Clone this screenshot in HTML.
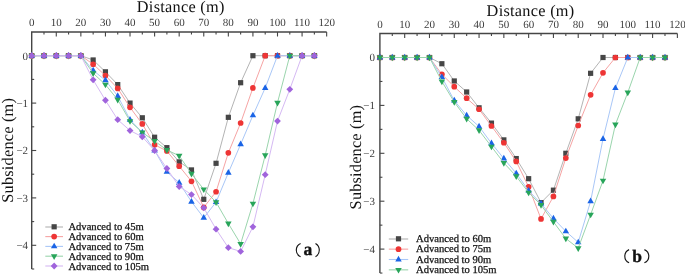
<!DOCTYPE html>
<html><head><meta charset="utf-8"><style>
html,body{margin:0;padding:0;background:#fff;}
body{width:685px;height:275px;overflow:hidden;}
svg{display:block;will-change:transform;}
text{font-family:"Liberation Serif",serif;text-rendering:geometricPrecision;}
.tl{font-size:11px;fill:#3c3c3c;}
.lg{fill:#111;stroke:#111;stroke-width:0.25px;}
.ttl{font-size:17.1px;fill:#111;}
.yl{font-size:17.2px;}
.pl{font-size:17.5px;font-weight:bold;fill:#111;stroke:#111;stroke-width:0.35px;}
</style></head><body>
<svg width="685" height="275" viewBox="0 0 685 275">
<rect width="685" height="275" fill="#fff"/>
<path d="M326.66 32.00H31.70V269.00" fill="none" stroke="#454545" stroke-width="1.4"/>
<line x1="43.99" y1="32.00" x2="43.99" y2="34.50" stroke="#454545" stroke-width="1.1"/>
<line x1="56.28" y1="32.00" x2="56.28" y2="36.50" stroke="#454545" stroke-width="1.1"/>
<line x1="68.57" y1="32.00" x2="68.57" y2="34.50" stroke="#454545" stroke-width="1.1"/>
<line x1="80.86" y1="32.00" x2="80.86" y2="36.50" stroke="#454545" stroke-width="1.1"/>
<line x1="93.15" y1="32.00" x2="93.15" y2="34.50" stroke="#454545" stroke-width="1.1"/>
<line x1="105.44" y1="32.00" x2="105.44" y2="36.50" stroke="#454545" stroke-width="1.1"/>
<line x1="117.73" y1="32.00" x2="117.73" y2="34.50" stroke="#454545" stroke-width="1.1"/>
<line x1="130.02" y1="32.00" x2="130.02" y2="36.50" stroke="#454545" stroke-width="1.1"/>
<line x1="142.31" y1="32.00" x2="142.31" y2="34.50" stroke="#454545" stroke-width="1.1"/>
<line x1="154.60" y1="32.00" x2="154.60" y2="36.50" stroke="#454545" stroke-width="1.1"/>
<line x1="166.89" y1="32.00" x2="166.89" y2="34.50" stroke="#454545" stroke-width="1.1"/>
<line x1="179.18" y1="32.00" x2="179.18" y2="36.50" stroke="#454545" stroke-width="1.1"/>
<line x1="191.47" y1="32.00" x2="191.47" y2="34.50" stroke="#454545" stroke-width="1.1"/>
<line x1="203.76" y1="32.00" x2="203.76" y2="36.50" stroke="#454545" stroke-width="1.1"/>
<line x1="216.05" y1="32.00" x2="216.05" y2="34.50" stroke="#454545" stroke-width="1.1"/>
<line x1="228.34" y1="32.00" x2="228.34" y2="36.50" stroke="#454545" stroke-width="1.1"/>
<line x1="240.63" y1="32.00" x2="240.63" y2="34.50" stroke="#454545" stroke-width="1.1"/>
<line x1="252.92" y1="32.00" x2="252.92" y2="36.50" stroke="#454545" stroke-width="1.1"/>
<line x1="265.21" y1="32.00" x2="265.21" y2="34.50" stroke="#454545" stroke-width="1.1"/>
<line x1="277.50" y1="32.00" x2="277.50" y2="36.50" stroke="#454545" stroke-width="1.1"/>
<line x1="289.79" y1="32.00" x2="289.79" y2="34.50" stroke="#454545" stroke-width="1.1"/>
<line x1="302.08" y1="32.00" x2="302.08" y2="36.50" stroke="#454545" stroke-width="1.1"/>
<line x1="314.37" y1="32.00" x2="314.37" y2="34.50" stroke="#454545" stroke-width="1.1"/>
<line x1="326.66" y1="32.00" x2="326.66" y2="36.50" stroke="#454545" stroke-width="1.1"/>
<text x="31.70" y="25.60" class="tl" text-anchor="middle">0</text>
<text x="56.28" y="25.60" class="tl" text-anchor="middle">10</text>
<text x="80.86" y="25.60" class="tl" text-anchor="middle">20</text>
<text x="105.44" y="25.60" class="tl" text-anchor="middle">30</text>
<text x="130.02" y="25.60" class="tl" text-anchor="middle">40</text>
<text x="154.60" y="25.60" class="tl" text-anchor="middle">50</text>
<text x="179.18" y="25.60" class="tl" text-anchor="middle">60</text>
<text x="203.76" y="25.60" class="tl" text-anchor="middle">70</text>
<text x="228.34" y="25.60" class="tl" text-anchor="middle">80</text>
<text x="252.92" y="25.60" class="tl" text-anchor="middle">90</text>
<text x="277.50" y="25.60" class="tl" text-anchor="middle">100</text>
<text x="302.08" y="25.60" class="tl" text-anchor="middle">110</text>
<text x="326.66" y="25.60" class="tl" text-anchor="middle">120</text>
<line x1="31.70" y1="55.70" x2="36.20" y2="55.70" stroke="#454545" stroke-width="1.1"/>
<line x1="31.70" y1="79.40" x2="34.20" y2="79.40" stroke="#454545" stroke-width="1.1"/>
<line x1="31.70" y1="103.10" x2="36.20" y2="103.10" stroke="#454545" stroke-width="1.1"/>
<line x1="31.70" y1="126.80" x2="34.20" y2="126.80" stroke="#454545" stroke-width="1.1"/>
<line x1="31.70" y1="150.50" x2="36.20" y2="150.50" stroke="#454545" stroke-width="1.1"/>
<line x1="31.70" y1="174.20" x2="34.20" y2="174.20" stroke="#454545" stroke-width="1.1"/>
<line x1="31.70" y1="197.90" x2="36.20" y2="197.90" stroke="#454545" stroke-width="1.1"/>
<line x1="31.70" y1="221.60" x2="34.20" y2="221.60" stroke="#454545" stroke-width="1.1"/>
<line x1="31.70" y1="245.30" x2="36.20" y2="245.30" stroke="#454545" stroke-width="1.1"/>
<line x1="31.70" y1="269.00" x2="34.20" y2="269.00" stroke="#454545" stroke-width="1.1"/>
<text x="28.10" y="59.55" class="tl" text-anchor="end">0</text>
<text x="28.10" y="106.95" class="tl" text-anchor="end">−1</text>
<text x="28.10" y="154.35" class="tl" text-anchor="end">−2</text>
<text x="28.10" y="201.75" class="tl" text-anchor="end">−3</text>
<text x="28.10" y="249.15" class="tl" text-anchor="end">−4</text>
<path d="M677.38 33.55H379.90V273.05" fill="none" stroke="#454545" stroke-width="1.4"/>
<line x1="392.29" y1="33.55" x2="392.29" y2="36.05" stroke="#454545" stroke-width="1.1"/>
<line x1="404.69" y1="33.55" x2="404.69" y2="38.05" stroke="#454545" stroke-width="1.1"/>
<line x1="417.08" y1="33.55" x2="417.08" y2="36.05" stroke="#454545" stroke-width="1.1"/>
<line x1="429.48" y1="33.55" x2="429.48" y2="38.05" stroke="#454545" stroke-width="1.1"/>
<line x1="441.88" y1="33.55" x2="441.88" y2="36.05" stroke="#454545" stroke-width="1.1"/>
<line x1="454.27" y1="33.55" x2="454.27" y2="38.05" stroke="#454545" stroke-width="1.1"/>
<line x1="466.66" y1="33.55" x2="466.66" y2="36.05" stroke="#454545" stroke-width="1.1"/>
<line x1="479.06" y1="33.55" x2="479.06" y2="38.05" stroke="#454545" stroke-width="1.1"/>
<line x1="491.45" y1="33.55" x2="491.45" y2="36.05" stroke="#454545" stroke-width="1.1"/>
<line x1="503.85" y1="33.55" x2="503.85" y2="38.05" stroke="#454545" stroke-width="1.1"/>
<line x1="516.25" y1="33.55" x2="516.25" y2="36.05" stroke="#454545" stroke-width="1.1"/>
<line x1="528.64" y1="33.55" x2="528.64" y2="38.05" stroke="#454545" stroke-width="1.1"/>
<line x1="541.03" y1="33.55" x2="541.03" y2="36.05" stroke="#454545" stroke-width="1.1"/>
<line x1="553.43" y1="33.55" x2="553.43" y2="38.05" stroke="#454545" stroke-width="1.1"/>
<line x1="565.83" y1="33.55" x2="565.83" y2="36.05" stroke="#454545" stroke-width="1.1"/>
<line x1="578.22" y1="33.55" x2="578.22" y2="38.05" stroke="#454545" stroke-width="1.1"/>
<line x1="590.62" y1="33.55" x2="590.62" y2="36.05" stroke="#454545" stroke-width="1.1"/>
<line x1="603.01" y1="33.55" x2="603.01" y2="38.05" stroke="#454545" stroke-width="1.1"/>
<line x1="615.40" y1="33.55" x2="615.40" y2="36.05" stroke="#454545" stroke-width="1.1"/>
<line x1="627.80" y1="33.55" x2="627.80" y2="38.05" stroke="#454545" stroke-width="1.1"/>
<line x1="640.19" y1="33.55" x2="640.19" y2="36.05" stroke="#454545" stroke-width="1.1"/>
<line x1="652.59" y1="33.55" x2="652.59" y2="38.05" stroke="#454545" stroke-width="1.1"/>
<line x1="664.99" y1="33.55" x2="664.99" y2="36.05" stroke="#454545" stroke-width="1.1"/>
<line x1="677.38" y1="33.55" x2="677.38" y2="38.05" stroke="#454545" stroke-width="1.1"/>
<text x="379.90" y="27.80" class="tl" text-anchor="middle">0</text>
<text x="404.69" y="27.80" class="tl" text-anchor="middle">10</text>
<text x="429.48" y="27.80" class="tl" text-anchor="middle">20</text>
<text x="454.27" y="27.80" class="tl" text-anchor="middle">30</text>
<text x="479.06" y="27.80" class="tl" text-anchor="middle">40</text>
<text x="503.85" y="27.80" class="tl" text-anchor="middle">50</text>
<text x="528.64" y="27.80" class="tl" text-anchor="middle">60</text>
<text x="553.43" y="27.80" class="tl" text-anchor="middle">70</text>
<text x="578.22" y="27.80" class="tl" text-anchor="middle">80</text>
<text x="603.01" y="27.80" class="tl" text-anchor="middle">90</text>
<text x="627.80" y="27.80" class="tl" text-anchor="middle">100</text>
<text x="652.59" y="27.80" class="tl" text-anchor="middle">110</text>
<text x="677.38" y="27.80" class="tl" text-anchor="middle">120</text>
<line x1="379.90" y1="57.50" x2="384.40" y2="57.50" stroke="#454545" stroke-width="1.1"/>
<line x1="379.90" y1="81.45" x2="382.40" y2="81.45" stroke="#454545" stroke-width="1.1"/>
<line x1="379.90" y1="105.40" x2="384.40" y2="105.40" stroke="#454545" stroke-width="1.1"/>
<line x1="379.90" y1="129.35" x2="382.40" y2="129.35" stroke="#454545" stroke-width="1.1"/>
<line x1="379.90" y1="153.30" x2="384.40" y2="153.30" stroke="#454545" stroke-width="1.1"/>
<line x1="379.90" y1="177.25" x2="382.40" y2="177.25" stroke="#454545" stroke-width="1.1"/>
<line x1="379.90" y1="201.20" x2="384.40" y2="201.20" stroke="#454545" stroke-width="1.1"/>
<line x1="379.90" y1="225.15" x2="382.40" y2="225.15" stroke="#454545" stroke-width="1.1"/>
<line x1="379.90" y1="249.10" x2="384.40" y2="249.10" stroke="#454545" stroke-width="1.1"/>
<line x1="379.90" y1="273.05" x2="382.40" y2="273.05" stroke="#454545" stroke-width="1.1"/>
<text x="375.00" y="61.35" class="tl" text-anchor="end">0</text>
<text x="375.00" y="109.25" class="tl" text-anchor="end">−1</text>
<text x="375.00" y="157.15" class="tl" text-anchor="end">−2</text>
<text x="375.00" y="205.05" class="tl" text-anchor="end">−3</text>
<text x="375.00" y="252.95" class="tl" text-anchor="end">−4</text>
<path d="M31.70 55.70 L43.99 55.70 L56.28 55.70 L68.57 55.70 L80.86 55.70 L93.15 59.97 L105.44 71.82 L117.73 84.61 L130.02 103.10 L142.31 117.79 L154.60 137.23 L166.89 147.66 L179.18 161.88 L191.47 169.93 L203.76 199.32 L216.05 163.30 L228.34 117.32 L240.63 82.72 L252.92 55.70 L265.21 55.70 L277.50 55.70 L289.79 55.70 L302.08 55.70 L314.37 55.70" fill="none" stroke="#b4b4b4" stroke-width="1"/>
<rect x="29.10" y="53.10" width="5.20" height="5.20" fill="#464646"/>
<rect x="41.39" y="53.10" width="5.20" height="5.20" fill="#464646"/>
<rect x="53.68" y="53.10" width="5.20" height="5.20" fill="#464646"/>
<rect x="65.97" y="53.10" width="5.20" height="5.20" fill="#464646"/>
<rect x="78.26" y="53.10" width="5.20" height="5.20" fill="#464646"/>
<rect x="90.55" y="57.37" width="5.20" height="5.20" fill="#464646"/>
<rect x="102.84" y="69.22" width="5.20" height="5.20" fill="#464646"/>
<rect x="115.13" y="82.01" width="5.20" height="5.20" fill="#464646"/>
<rect x="127.42" y="100.50" width="5.20" height="5.20" fill="#464646"/>
<rect x="139.71" y="115.19" width="5.20" height="5.20" fill="#464646"/>
<rect x="152.00" y="134.63" width="5.20" height="5.20" fill="#464646"/>
<rect x="164.29" y="145.06" width="5.20" height="5.20" fill="#464646"/>
<rect x="176.58" y="159.28" width="5.20" height="5.20" fill="#464646"/>
<rect x="188.87" y="167.33" width="5.20" height="5.20" fill="#464646"/>
<rect x="201.16" y="196.72" width="5.20" height="5.20" fill="#464646"/>
<rect x="213.45" y="160.70" width="5.20" height="5.20" fill="#464646"/>
<rect x="225.74" y="114.72" width="5.20" height="5.20" fill="#464646"/>
<rect x="238.03" y="80.12" width="5.20" height="5.20" fill="#464646"/>
<rect x="250.32" y="53.10" width="5.20" height="5.20" fill="#464646"/>
<rect x="262.61" y="53.10" width="5.20" height="5.20" fill="#464646"/>
<rect x="274.90" y="53.10" width="5.20" height="5.20" fill="#464646"/>
<rect x="287.19" y="53.10" width="5.20" height="5.20" fill="#464646"/>
<rect x="299.48" y="53.10" width="5.20" height="5.20" fill="#464646"/>
<rect x="311.77" y="53.10" width="5.20" height="5.20" fill="#464646"/>
<path d="M31.70 55.70 L43.99 55.70 L56.28 55.70 L68.57 55.70 L80.86 55.70 L93.15 64.23 L105.44 75.61 L117.73 88.41 L130.02 107.37 L142.31 123.96 L154.60 144.81 L166.89 150.97 L179.18 166.14 L191.47 181.31 L203.76 207.38 L216.05 191.74 L228.34 152.87 L240.63 123.01 L252.92 87.93 L265.21 55.70 L277.50 55.70 L289.79 55.70 L302.08 55.70 L314.37 55.70" fill="none" stroke="#f6a4a4" stroke-width="1"/>
<circle cx="31.70" cy="55.70" r="2.85" fill="#ee3535"/>
<circle cx="43.99" cy="55.70" r="2.85" fill="#ee3535"/>
<circle cx="56.28" cy="55.70" r="2.85" fill="#ee3535"/>
<circle cx="68.57" cy="55.70" r="2.85" fill="#ee3535"/>
<circle cx="80.86" cy="55.70" r="2.85" fill="#ee3535"/>
<circle cx="93.15" cy="64.23" r="2.85" fill="#ee3535"/>
<circle cx="105.44" cy="75.61" r="2.85" fill="#ee3535"/>
<circle cx="117.73" cy="88.41" r="2.85" fill="#ee3535"/>
<circle cx="130.02" cy="107.37" r="2.85" fill="#ee3535"/>
<circle cx="142.31" cy="123.96" r="2.85" fill="#ee3535"/>
<circle cx="154.60" cy="144.81" r="2.85" fill="#ee3535"/>
<circle cx="166.89" cy="150.97" r="2.85" fill="#ee3535"/>
<circle cx="179.18" cy="166.14" r="2.85" fill="#ee3535"/>
<circle cx="191.47" cy="181.31" r="2.85" fill="#ee3535"/>
<circle cx="203.76" cy="207.38" r="2.85" fill="#ee3535"/>
<circle cx="216.05" cy="191.74" r="2.85" fill="#ee3535"/>
<circle cx="228.34" cy="152.87" r="2.85" fill="#ee3535"/>
<circle cx="240.63" cy="123.01" r="2.85" fill="#ee3535"/>
<circle cx="252.92" cy="87.93" r="2.85" fill="#ee3535"/>
<circle cx="265.21" cy="55.70" r="2.85" fill="#ee3535"/>
<circle cx="277.50" cy="55.70" r="2.85" fill="#ee3535"/>
<circle cx="289.79" cy="55.70" r="2.85" fill="#ee3535"/>
<circle cx="302.08" cy="55.70" r="2.85" fill="#ee3535"/>
<circle cx="314.37" cy="55.70" r="2.85" fill="#ee3535"/>
<path d="M31.70 55.70 L43.99 55.70 L56.28 55.70 L68.57 55.70 L80.86 55.70 L93.15 70.39 L105.44 80.35 L117.73 95.99 L130.02 119.69 L142.31 132.49 L154.60 150.50 L166.89 171.83 L179.18 182.73 L191.47 201.69 L203.76 217.81 L216.05 202.17 L228.34 172.78 L240.63 144.34 L252.92 115.42 L265.21 87.93 L277.50 55.70 L289.79 55.70 L302.08 55.70 L314.37 55.70" fill="none" stroke="#a9c7f7" stroke-width="1"/>
<path d="M31.70 51.95L34.95 57.65L28.45 57.65Z" fill="#1a64e6"/>
<path d="M43.99 51.95L47.24 57.65L40.74 57.65Z" fill="#1a64e6"/>
<path d="M56.28 51.95L59.53 57.65L53.03 57.65Z" fill="#1a64e6"/>
<path d="M68.57 51.95L71.82 57.65L65.32 57.65Z" fill="#1a64e6"/>
<path d="M80.86 51.95L84.11 57.65L77.61 57.65Z" fill="#1a64e6"/>
<path d="M93.15 66.64L96.40 72.34L89.90 72.34Z" fill="#1a64e6"/>
<path d="M105.44 76.60L108.69 82.30L102.19 82.30Z" fill="#1a64e6"/>
<path d="M117.73 92.24L120.98 97.94L114.48 97.94Z" fill="#1a64e6"/>
<path d="M130.02 115.94L133.27 121.64L126.77 121.64Z" fill="#1a64e6"/>
<path d="M142.31 128.74L145.56 134.44L139.06 134.44Z" fill="#1a64e6"/>
<path d="M154.60 146.75L157.85 152.45L151.35 152.45Z" fill="#1a64e6"/>
<path d="M166.89 168.08L170.14 173.78L163.64 173.78Z" fill="#1a64e6"/>
<path d="M179.18 178.98L182.43 184.68L175.93 184.68Z" fill="#1a64e6"/>
<path d="M191.47 197.94L194.72 203.64L188.22 203.64Z" fill="#1a64e6"/>
<path d="M203.76 214.06L207.01 219.76L200.51 219.76Z" fill="#1a64e6"/>
<path d="M216.05 198.42L219.30 204.12L212.80 204.12Z" fill="#1a64e6"/>
<path d="M228.34 169.03L231.59 174.73L225.09 174.73Z" fill="#1a64e6"/>
<path d="M240.63 140.59L243.88 146.29L237.38 146.29Z" fill="#1a64e6"/>
<path d="M252.92 111.67L256.17 117.37L249.67 117.37Z" fill="#1a64e6"/>
<path d="M265.21 84.18L268.46 89.88L261.96 89.88Z" fill="#1a64e6"/>
<path d="M277.50 51.95L280.75 57.65L274.25 57.65Z" fill="#1a64e6"/>
<path d="M289.79 51.95L293.04 57.65L286.54 57.65Z" fill="#1a64e6"/>
<path d="M302.08 51.95L305.33 57.65L298.83 57.65Z" fill="#1a64e6"/>
<path d="M314.37 51.95L317.62 57.65L311.12 57.65Z" fill="#1a64e6"/>
<path d="M31.70 55.70 L43.99 55.70 L56.28 55.70 L68.57 55.70 L80.86 55.70 L93.15 73.24 L105.44 84.61 L117.73 99.78 L130.02 121.11 L142.31 132.49 L154.60 141.02 L166.89 150.03 L179.18 155.71 L191.47 173.73 L203.76 189.37 L216.05 202.17 L228.34 223.50 L240.63 243.88 L252.92 203.59 L265.21 155.24 L277.50 102.63 L289.79 55.70 L302.08 55.70 L314.37 55.70" fill="none" stroke="#9ad5ad" stroke-width="1"/>
<path d="M31.70 59.45L34.95 53.75L28.45 53.75Z" fill="#28a55a"/>
<path d="M43.99 59.45L47.24 53.75L40.74 53.75Z" fill="#28a55a"/>
<path d="M56.28 59.45L59.53 53.75L53.03 53.75Z" fill="#28a55a"/>
<path d="M68.57 59.45L71.82 53.75L65.32 53.75Z" fill="#28a55a"/>
<path d="M80.86 59.45L84.11 53.75L77.61 53.75Z" fill="#28a55a"/>
<path d="M93.15 76.99L96.40 71.29L89.90 71.29Z" fill="#28a55a"/>
<path d="M105.44 88.36L108.69 82.66L102.19 82.66Z" fill="#28a55a"/>
<path d="M117.73 103.53L120.98 97.83L114.48 97.83Z" fill="#28a55a"/>
<path d="M130.02 124.86L133.27 119.16L126.77 119.16Z" fill="#28a55a"/>
<path d="M142.31 136.24L145.56 130.54L139.06 130.54Z" fill="#28a55a"/>
<path d="M154.60 144.77L157.85 139.07L151.35 139.07Z" fill="#28a55a"/>
<path d="M166.89 153.78L170.14 148.08L163.64 148.08Z" fill="#28a55a"/>
<path d="M179.18 159.46L182.43 153.76L175.93 153.76Z" fill="#28a55a"/>
<path d="M191.47 177.48L194.72 171.78L188.22 171.78Z" fill="#28a55a"/>
<path d="M203.76 193.12L207.01 187.42L200.51 187.42Z" fill="#28a55a"/>
<path d="M216.05 205.92L219.30 200.22L212.80 200.22Z" fill="#28a55a"/>
<path d="M228.34 227.25L231.59 221.55L225.09 221.55Z" fill="#28a55a"/>
<path d="M240.63 247.63L243.88 241.93L237.38 241.93Z" fill="#28a55a"/>
<path d="M252.92 207.34L256.17 201.64L249.67 201.64Z" fill="#28a55a"/>
<path d="M265.21 158.99L268.46 153.29L261.96 153.29Z" fill="#28a55a"/>
<path d="M277.50 106.38L280.75 100.68L274.25 100.68Z" fill="#28a55a"/>
<path d="M289.79 59.45L293.04 53.75L286.54 53.75Z" fill="#28a55a"/>
<path d="M302.08 59.45L305.33 53.75L298.83 53.75Z" fill="#28a55a"/>
<path d="M314.37 59.45L317.62 53.75L311.12 53.75Z" fill="#28a55a"/>
<path d="M31.70 55.70 L43.99 55.70 L56.28 55.70 L68.57 55.70 L80.86 55.70 L93.15 79.87 L105.44 100.26 L117.73 119.69 L130.02 130.59 L142.31 136.75 L154.60 150.50 L166.89 168.51 L179.18 186.52 L191.47 194.58 L203.76 207.85 L216.05 229.18 L228.34 247.67 L240.63 251.46 L252.92 226.81 L265.21 174.67 L277.50 121.11 L289.79 89.35 L302.08 55.70 L314.37 55.70" fill="none" stroke="#d5b9f3" stroke-width="1"/>
<path d="M31.70 52.30L35.10 55.70L31.70 59.10L28.30 55.70Z" fill="#a064dc"/>
<path d="M43.99 52.30L47.39 55.70L43.99 59.10L40.59 55.70Z" fill="#a064dc"/>
<path d="M56.28 52.30L59.68 55.70L56.28 59.10L52.88 55.70Z" fill="#a064dc"/>
<path d="M68.57 52.30L71.97 55.70L68.57 59.10L65.17 55.70Z" fill="#a064dc"/>
<path d="M80.86 52.30L84.26 55.70L80.86 59.10L77.46 55.70Z" fill="#a064dc"/>
<path d="M93.15 76.47L96.55 79.87L93.15 83.27L89.75 79.87Z" fill="#a064dc"/>
<path d="M105.44 96.86L108.84 100.26L105.44 103.66L102.04 100.26Z" fill="#a064dc"/>
<path d="M117.73 116.29L121.13 119.69L117.73 123.09L114.33 119.69Z" fill="#a064dc"/>
<path d="M130.02 127.19L133.42 130.59L130.02 133.99L126.62 130.59Z" fill="#a064dc"/>
<path d="M142.31 133.35L145.71 136.75L142.31 140.15L138.91 136.75Z" fill="#a064dc"/>
<path d="M154.60 147.10L158.00 150.50L154.60 153.90L151.20 150.50Z" fill="#a064dc"/>
<path d="M166.89 165.11L170.29 168.51L166.89 171.91L163.49 168.51Z" fill="#a064dc"/>
<path d="M179.18 183.12L182.58 186.52L179.18 189.92L175.78 186.52Z" fill="#a064dc"/>
<path d="M191.47 191.18L194.87 194.58L191.47 197.98L188.07 194.58Z" fill="#a064dc"/>
<path d="M203.76 204.45L207.16 207.85L203.76 211.25L200.36 207.85Z" fill="#a064dc"/>
<path d="M216.05 225.78L219.45 229.18L216.05 232.58L212.65 229.18Z" fill="#a064dc"/>
<path d="M228.34 244.27L231.74 247.67L228.34 251.07L224.94 247.67Z" fill="#a064dc"/>
<path d="M240.63 248.06L244.03 251.46L240.63 254.86L237.23 251.46Z" fill="#a064dc"/>
<path d="M252.92 223.41L256.32 226.81L252.92 230.21L249.52 226.81Z" fill="#a064dc"/>
<path d="M265.21 171.27L268.61 174.67L265.21 178.07L261.81 174.67Z" fill="#a064dc"/>
<path d="M277.50 117.71L280.90 121.11L277.50 124.51L274.10 121.11Z" fill="#a064dc"/>
<path d="M289.79 85.95L293.19 89.35L289.79 92.75L286.39 89.35Z" fill="#a064dc"/>
<path d="M302.08 52.30L305.48 55.70L302.08 59.10L298.68 55.70Z" fill="#a064dc"/>
<path d="M314.37 52.30L317.77 55.70L314.37 59.10L310.97 55.70Z" fill="#a064dc"/>
<path d="M379.90 57.50 L392.29 57.50 L404.69 57.50 L417.08 57.50 L429.48 57.50 L441.88 63.73 L454.27 80.97 L466.66 91.99 L479.06 107.80 L491.45 123.12 L503.85 139.89 L516.25 158.57 L528.64 178.69 L541.03 202.64 L553.43 190.18 L565.83 153.30 L578.22 118.81 L590.62 73.31 L603.01 57.50 L615.40 57.50 L627.80 57.50 L640.19 57.50 L652.59 57.50 L664.99 57.50" fill="none" stroke="#b4b4b4" stroke-width="1"/>
<rect x="377.30" y="54.90" width="5.20" height="5.20" fill="#464646"/>
<rect x="389.69" y="54.90" width="5.20" height="5.20" fill="#464646"/>
<rect x="402.09" y="54.90" width="5.20" height="5.20" fill="#464646"/>
<rect x="414.48" y="54.90" width="5.20" height="5.20" fill="#464646"/>
<rect x="426.88" y="54.90" width="5.20" height="5.20" fill="#464646"/>
<rect x="439.27" y="61.13" width="5.20" height="5.20" fill="#464646"/>
<rect x="451.67" y="78.37" width="5.20" height="5.20" fill="#464646"/>
<rect x="464.06" y="89.39" width="5.20" height="5.20" fill="#464646"/>
<rect x="476.46" y="105.20" width="5.20" height="5.20" fill="#464646"/>
<rect x="488.85" y="120.52" width="5.20" height="5.20" fill="#464646"/>
<rect x="501.25" y="137.29" width="5.20" height="5.20" fill="#464646"/>
<rect x="513.64" y="155.97" width="5.20" height="5.20" fill="#464646"/>
<rect x="526.04" y="176.09" width="5.20" height="5.20" fill="#464646"/>
<rect x="538.43" y="200.04" width="5.20" height="5.20" fill="#464646"/>
<rect x="550.83" y="187.58" width="5.20" height="5.20" fill="#464646"/>
<rect x="563.23" y="150.70" width="5.20" height="5.20" fill="#464646"/>
<rect x="575.62" y="116.21" width="5.20" height="5.20" fill="#464646"/>
<rect x="588.01" y="70.71" width="5.20" height="5.20" fill="#464646"/>
<rect x="600.41" y="54.90" width="5.20" height="5.20" fill="#464646"/>
<rect x="612.80" y="54.90" width="5.20" height="5.20" fill="#464646"/>
<rect x="625.20" y="54.90" width="5.20" height="5.20" fill="#464646"/>
<rect x="637.59" y="54.90" width="5.20" height="5.20" fill="#464646"/>
<rect x="649.99" y="54.90" width="5.20" height="5.20" fill="#464646"/>
<rect x="662.38" y="54.90" width="5.20" height="5.20" fill="#464646"/>
<path d="M379.90 57.50 L392.29 57.50 L404.69 57.50 L417.08 57.50 L429.48 57.50 L441.88 74.27 L454.27 86.72 L466.66 98.22 L479.06 109.23 L491.45 126.00 L503.85 142.76 L516.25 161.44 L528.64 186.83 L541.03 218.92 L553.43 196.41 L565.83 158.09 L578.22 125.52 L590.62 94.86 L603.01 72.83 L615.40 57.50 L627.80 57.50 L640.19 57.50 L652.59 57.50 L664.99 57.50" fill="none" stroke="#f6a4a4" stroke-width="1"/>
<circle cx="379.90" cy="57.50" r="2.85" fill="#ee3535"/>
<circle cx="392.29" cy="57.50" r="2.85" fill="#ee3535"/>
<circle cx="404.69" cy="57.50" r="2.85" fill="#ee3535"/>
<circle cx="417.08" cy="57.50" r="2.85" fill="#ee3535"/>
<circle cx="429.48" cy="57.50" r="2.85" fill="#ee3535"/>
<circle cx="441.88" cy="74.27" r="2.85" fill="#ee3535"/>
<circle cx="454.27" cy="86.72" r="2.85" fill="#ee3535"/>
<circle cx="466.66" cy="98.22" r="2.85" fill="#ee3535"/>
<circle cx="479.06" cy="109.23" r="2.85" fill="#ee3535"/>
<circle cx="491.45" cy="126.00" r="2.85" fill="#ee3535"/>
<circle cx="503.85" cy="142.76" r="2.85" fill="#ee3535"/>
<circle cx="516.25" cy="161.44" r="2.85" fill="#ee3535"/>
<circle cx="528.64" cy="186.83" r="2.85" fill="#ee3535"/>
<circle cx="541.03" cy="218.92" r="2.85" fill="#ee3535"/>
<circle cx="553.43" cy="196.41" r="2.85" fill="#ee3535"/>
<circle cx="565.83" cy="158.09" r="2.85" fill="#ee3535"/>
<circle cx="578.22" cy="125.52" r="2.85" fill="#ee3535"/>
<circle cx="590.62" cy="94.86" r="2.85" fill="#ee3535"/>
<circle cx="603.01" cy="72.83" r="2.85" fill="#ee3535"/>
<circle cx="615.40" cy="57.50" r="2.85" fill="#ee3535"/>
<circle cx="627.80" cy="57.50" r="2.85" fill="#ee3535"/>
<circle cx="640.19" cy="57.50" r="2.85" fill="#ee3535"/>
<circle cx="652.59" cy="57.50" r="2.85" fill="#ee3535"/>
<circle cx="664.99" cy="57.50" r="2.85" fill="#ee3535"/>
<path d="M379.90 57.50 L392.29 57.50 L404.69 57.50 L417.08 57.50 L429.48 57.50 L441.88 77.14 L454.27 100.61 L466.66 115.46 L479.06 126.48 L491.45 143.24 L503.85 158.57 L516.25 173.42 L528.64 190.66 L541.03 203.59 L553.43 218.44 L565.83 231.38 L578.22 242.39 L590.62 201.20 L603.01 138.93 L615.40 88.16 L627.80 57.50 L640.19 57.50 L652.59 57.50 L664.99 57.50" fill="none" stroke="#a9c7f7" stroke-width="1"/>
<path d="M379.90 53.75L383.15 59.45L376.65 59.45Z" fill="#1a64e6"/>
<path d="M392.29 53.75L395.54 59.45L389.04 59.45Z" fill="#1a64e6"/>
<path d="M404.69 53.75L407.94 59.45L401.44 59.45Z" fill="#1a64e6"/>
<path d="M417.08 53.75L420.33 59.45L413.83 59.45Z" fill="#1a64e6"/>
<path d="M429.48 53.75L432.73 59.45L426.23 59.45Z" fill="#1a64e6"/>
<path d="M441.88 73.39L445.12 79.09L438.62 79.09Z" fill="#1a64e6"/>
<path d="M454.27 96.86L457.52 102.56L451.02 102.56Z" fill="#1a64e6"/>
<path d="M466.66 111.71L469.91 117.41L463.41 117.41Z" fill="#1a64e6"/>
<path d="M479.06 122.73L482.31 128.43L475.81 128.43Z" fill="#1a64e6"/>
<path d="M491.45 139.49L494.70 145.19L488.20 145.19Z" fill="#1a64e6"/>
<path d="M503.85 154.82L507.10 160.52L500.60 160.52Z" fill="#1a64e6"/>
<path d="M516.25 169.67L519.50 175.37L513.00 175.37Z" fill="#1a64e6"/>
<path d="M528.64 186.91L531.89 192.61L525.39 192.61Z" fill="#1a64e6"/>
<path d="M541.03 199.84L544.28 205.54L537.78 205.54Z" fill="#1a64e6"/>
<path d="M553.43 214.69L556.68 220.39L550.18 220.39Z" fill="#1a64e6"/>
<path d="M565.83 227.63L569.08 233.33L562.58 233.33Z" fill="#1a64e6"/>
<path d="M578.22 238.64L581.47 244.34L574.97 244.34Z" fill="#1a64e6"/>
<path d="M590.62 197.45L593.87 203.15L587.37 203.15Z" fill="#1a64e6"/>
<path d="M603.01 135.18L606.26 140.88L599.76 140.88Z" fill="#1a64e6"/>
<path d="M615.40 84.41L618.65 90.11L612.15 90.11Z" fill="#1a64e6"/>
<path d="M627.80 53.75L631.05 59.45L624.55 59.45Z" fill="#1a64e6"/>
<path d="M640.19 53.75L643.44 59.45L636.94 59.45Z" fill="#1a64e6"/>
<path d="M652.59 53.75L655.84 59.45L649.34 59.45Z" fill="#1a64e6"/>
<path d="M664.99 53.75L668.24 59.45L661.74 59.45Z" fill="#1a64e6"/>
<path d="M379.90 57.50 L392.29 57.50 L404.69 57.50 L417.08 57.50 L429.48 57.50 L441.88 81.45 L454.27 102.05 L466.66 118.81 L479.06 130.31 L491.45 146.59 L503.85 162.88 L516.25 176.29 L528.64 192.58 L541.03 205.03 L553.43 221.80 L565.83 238.56 L578.22 248.14 L590.62 214.61 L603.01 180.60 L615.40 124.56 L627.80 92.47 L640.19 57.50 L652.59 57.50 L664.99 57.50" fill="none" stroke="#9ad5ad" stroke-width="1"/>
<path d="M379.90 61.25L383.15 55.55L376.65 55.55Z" fill="#28a55a"/>
<path d="M392.29 61.25L395.54 55.55L389.04 55.55Z" fill="#28a55a"/>
<path d="M404.69 61.25L407.94 55.55L401.44 55.55Z" fill="#28a55a"/>
<path d="M417.08 61.25L420.33 55.55L413.83 55.55Z" fill="#28a55a"/>
<path d="M429.48 61.25L432.73 55.55L426.23 55.55Z" fill="#28a55a"/>
<path d="M441.88 85.20L445.12 79.50L438.62 79.50Z" fill="#28a55a"/>
<path d="M454.27 105.80L457.52 100.10L451.02 100.10Z" fill="#28a55a"/>
<path d="M466.66 122.56L469.91 116.86L463.41 116.86Z" fill="#28a55a"/>
<path d="M479.06 134.06L482.31 128.36L475.81 128.36Z" fill="#28a55a"/>
<path d="M491.45 150.34L494.70 144.64L488.20 144.64Z" fill="#28a55a"/>
<path d="M503.85 166.63L507.10 160.93L500.60 160.93Z" fill="#28a55a"/>
<path d="M516.25 180.04L519.50 174.34L513.00 174.34Z" fill="#28a55a"/>
<path d="M528.64 196.33L531.89 190.63L525.39 190.63Z" fill="#28a55a"/>
<path d="M541.03 208.78L544.28 203.08L537.78 203.08Z" fill="#28a55a"/>
<path d="M553.43 225.55L556.68 219.85L550.18 219.85Z" fill="#28a55a"/>
<path d="M565.83 242.31L569.08 236.61L562.58 236.61Z" fill="#28a55a"/>
<path d="M578.22 251.89L581.47 246.19L574.97 246.19Z" fill="#28a55a"/>
<path d="M590.62 218.36L593.87 212.66L587.37 212.66Z" fill="#28a55a"/>
<path d="M603.01 184.35L606.26 178.65L599.76 178.65Z" fill="#28a55a"/>
<path d="M615.40 128.31L618.65 122.61L612.15 122.61Z" fill="#28a55a"/>
<path d="M627.80 96.22L631.05 90.52L624.55 90.52Z" fill="#28a55a"/>
<path d="M640.19 61.25L643.44 55.55L636.94 55.55Z" fill="#28a55a"/>
<path d="M652.59 61.25L655.84 55.55L649.34 55.55Z" fill="#28a55a"/>
<path d="M664.99 61.25L668.24 55.55L661.74 55.55Z" fill="#28a55a"/>
<line x1="45.3" y1="227.00" x2="63" y2="227.00" stroke="#d2d2d2" stroke-width="1.9"/>
<rect x="51.55" y="224.20" width="5.20" height="5.20" fill="#464646"/>
<text x="68.4" y="229.80" class="lg" style="font-size:10.6px">Advanced to 45m</text>
<line x1="45.3" y1="236.60" x2="63" y2="236.60" stroke="#f6a4a4" stroke-width="1.1"/>
<circle cx="54.15" cy="236.60" r="2.85" fill="#ee3535"/>
<text x="68.4" y="239.95" class="lg" style="font-size:10.6px">Advanced to 60m</text>
<line x1="45.3" y1="246.40" x2="63" y2="246.40" stroke="#a9c7f7" stroke-width="1.1"/>
<path d="M54.15 242.65L57.40 248.35L50.90 248.35Z" fill="#1a64e6"/>
<text x="68.4" y="250.10" class="lg" style="font-size:10.6px">Advanced to 75m</text>
<line x1="45.3" y1="256.20" x2="63" y2="256.20" stroke="#9ad5ad" stroke-width="1.1"/>
<path d="M54.15 259.95L57.40 254.25L50.90 254.25Z" fill="#28a55a"/>
<text x="68.4" y="260.25" class="lg" style="font-size:10.6px">Advanced to 90m</text>
<line x1="45.3" y1="266.00" x2="63" y2="266.00" stroke="#d5b9f3" stroke-width="1.1"/>
<path d="M54.15 262.60L57.55 266.00L54.15 269.40L50.75 266.00Z" fill="#a064dc"/>
<text x="68.4" y="270.40" class="lg" style="font-size:10.6px">Advanced to 105m</text>
<line x1="388.8" y1="239.00" x2="408.2" y2="239.00" stroke="#d2d2d2" stroke-width="1.9"/>
<rect x="395.90" y="236.20" width="5.20" height="5.20" fill="#464646"/>
<text x="416" y="241.90" class="lg" style="font-size:10.6px">Advanced to 60m</text>
<line x1="388.8" y1="249.15" x2="408.2" y2="249.15" stroke="#f6a4a4" stroke-width="1.1"/>
<circle cx="398.50" cy="249.15" r="2.85" fill="#ee3535"/>
<text x="416" y="252.20" class="lg" style="font-size:10.6px">Advanced to 75m</text>
<line x1="388.8" y1="259.50" x2="408.2" y2="259.50" stroke="#a9c7f7" stroke-width="1.1"/>
<path d="M398.50 255.75L401.75 261.45L395.25 261.45Z" fill="#1a64e6"/>
<text x="416" y="262.50" class="lg" style="font-size:10.6px">Advanced to 90m</text>
<line x1="388.8" y1="269.85" x2="408.2" y2="269.85" stroke="#9ad5ad" stroke-width="1.1"/>
<path d="M398.50 273.60L401.75 267.90L395.25 267.90Z" fill="#28a55a"/>
<text x="416" y="272.80" class="lg" style="font-size:10.6px">Advanced to 105m</text>
<text x="180.6" y="11.9" class="ttl" style="font-size:16.3px" text-anchor="middle" textLength="87.6" lengthAdjust="spacing">Distance (m)</text>
<text x="530.4" y="15.9" class="ttl" style="font-size:16.3px" text-anchor="middle" textLength="87.6" lengthAdjust="spacing">Distance (m)</text>
<text transform="translate(12.6,150.4) rotate(-90)" class="ttl yl" style="font-size:16.3px" text-anchor="middle" textLength="104.6" lengthAdjust="spacing">Subsidence (m)</text>
<text transform="translate(360.7,157.2) rotate(-90)" class="ttl yl" style="font-size:16.3px" text-anchor="middle" textLength="104.4" lengthAdjust="spacing">Subsidence (m)</text>
<path d="M300.60 243.40 A7.37 7.37 0 0 0 300.60 256.80" fill="none" stroke="#151515" stroke-width="1.15"/>
<text x="307.9" y="255.1" class="pl" text-anchor="middle">a</text>
<path d="M315.50 243.40 A7.81 7.81 0 0 1 315.50 256.80" fill="none" stroke="#151515" stroke-width="1.15"/>
<path d="M629.10 249.60 A7.22 7.22 0 0 0 629.10 262.80" fill="none" stroke="#151515" stroke-width="1.15"/>
<text x="637.2" y="262.1" class="pl" text-anchor="middle">b</text>
<path d="M644.40 249.60 A7.15 7.15 0 0 1 644.40 262.80" fill="none" stroke="#151515" stroke-width="1.15"/>
</svg>
</body></html>
